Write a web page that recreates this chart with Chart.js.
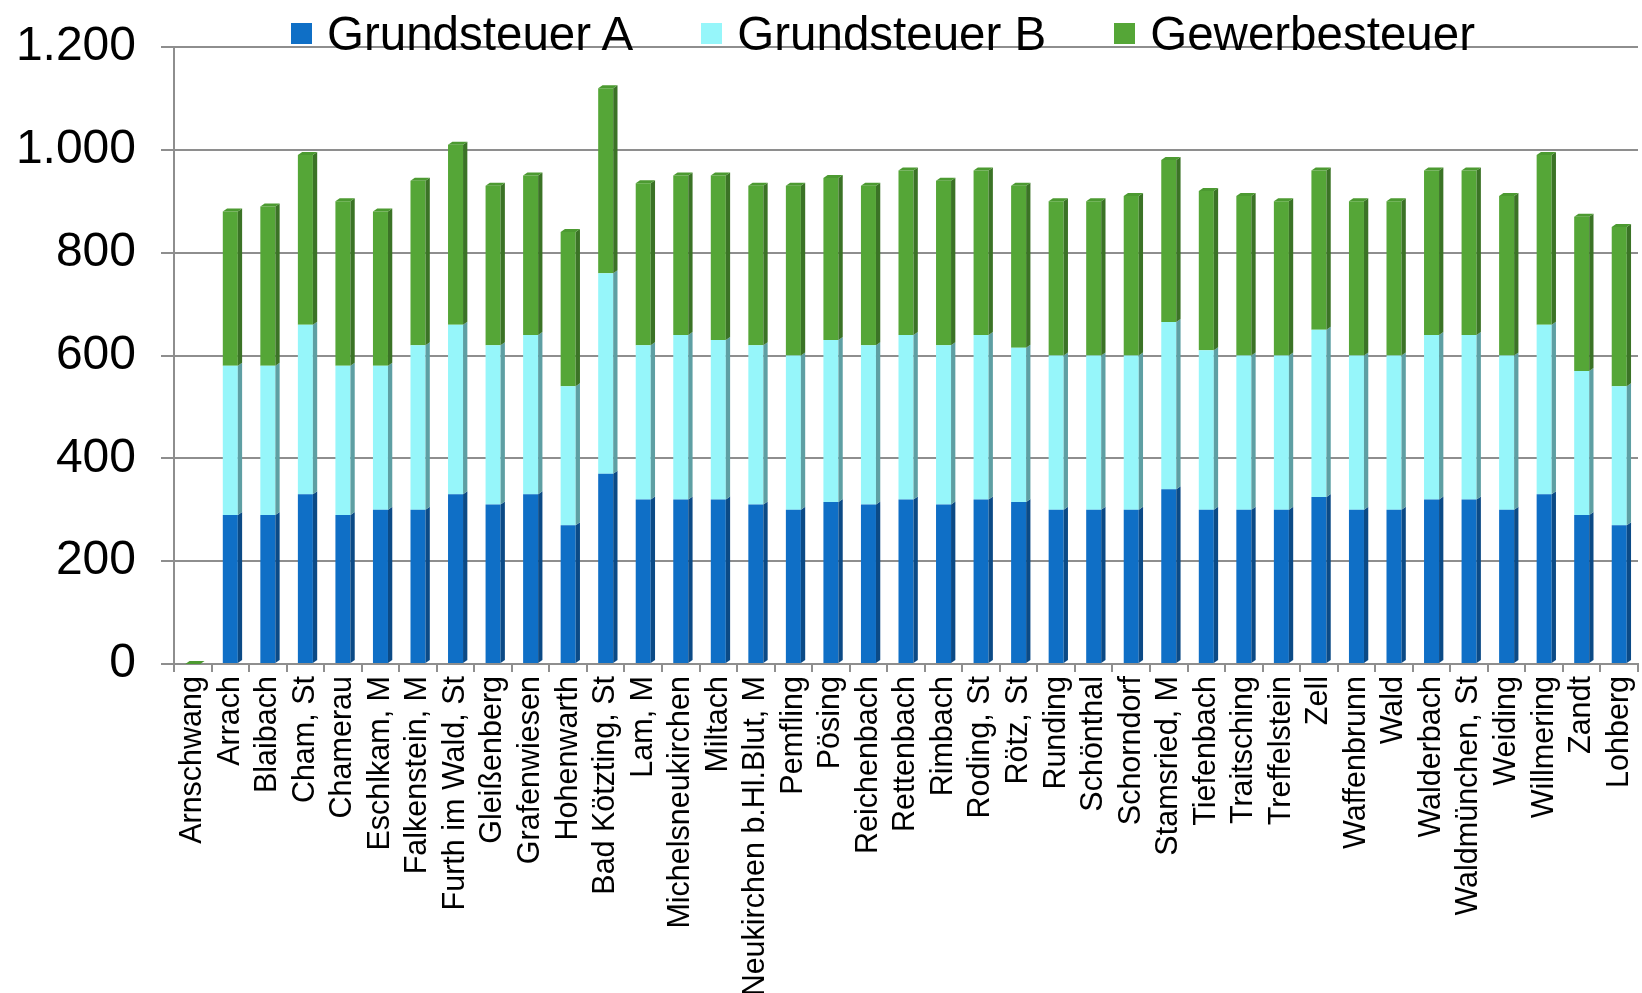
<!DOCTYPE html>
<html lang="de">
<head>
<meta charset="utf-8">
<title>Grundsteuer A, Grundsteuer B, Gewerbesteuer</title>
<script src="https://cdn.jsdelivr.net/npm/chart.js@4.4.1/dist/chart.umd.min.js"></script>
<style>
    html, body { margin: 0; padding: 0; background: #fff; }
    #wrap { position: relative; width: 1642px; height: 993px; overflow: hidden; }
    #legende {
        position: absolute; top: 10px; left: 291px;
        display: flex; align-items: center; gap: 68px;
        font-family: 'Liberation Sans', Arial, sans-serif; font-size: 47.5px; line-height: 47px; color: #000;
    }
    #legende .item { display: flex; align-items: center; }
    #legende .box { width: 21px; height: 21px; margin-right: 15px; }
</style>
</head>
<body>
<div id="wrap">
    <canvas id="myChart" width="1642" height="993"></canvas>
    <div id="legende"></div>
</div>
<script>
// Gemeinden (Landkreis Cham)
const gemeinden = [
    'Arnschwang', 'Arrach', 'Blaibach', 'Cham, St', 'Chamerau', 'Eschlkam, M',
    'Falkenstein, M', 'Furth im Wald, St', 'Gleißenberg', 'Grafenwiesen', 'Hohenwarth',
    'Bad Kötzting, St', 'Lam, M', 'Michelsneukirchen', 'Miltach', 'Neukirchen b.Hl.Blut, M',
    'Pemfling', 'Pösing', 'Reichenbach', 'Rettenbach', 'Rimbach', 'Roding, St', 'Rötz, St',
    'Runding', 'Schönthal', 'Schorndorf', 'Stamsried, M', 'Tiefenbach', 'Traitsching',
    'Treffelstein', 'Zell', 'Waffenbrunn', 'Wald', 'Walderbach', 'Waldmünchen, St',
    'Weiding', 'Willmering', 'Zandt', 'Lohberg'
];

// Werte je Gemeinde
const grundsteuerA = [
    0, 290, 290, 330, 290, 300, 300, 330, 310, 330, 270, 370, 320, 320, 320, 310,
    300, 315, 310, 320, 310, 320, 315, 300, 300, 300, 340, 300, 300, 300, 325,
    300, 300, 320, 320, 300, 330, 290, 270
];
const grundsteuerB = [
    0, 290, 290, 330, 290, 280, 320, 330, 310, 310, 270, 390, 300, 320, 310, 310,
    300, 315, 310, 320, 310, 320, 300, 300, 300, 300, 325, 310, 300, 300, 325,
    300, 300, 320, 320, 300, 330, 280, 270
];
const gewerbesteuer = [
    0, 300, 310, 330, 320, 300, 320, 350, 310, 310, 300, 360, 315, 310, 320, 310,
    330, 315, 310, 320, 320, 320, 315, 300, 300, 310, 315, 310, 310, 300, 310,
    300, 300, 320, 320, 310, 330, 300, 310
];

// Achse
const yTicks = [0, 200, 400, 600, 800, 1000, 1200];

const serienNamen = ['Grundsteuer A', 'Grundsteuer B', 'Gewerbesteuer'];
const frontFarben = ['#0F6FC6', '#96F6FA', '#55A637'];
const seitenFarben = ['#0B4A86', '#5E9FA3', '#3B7326'];
const deckelFarbe = '#4C9A31';

const monitor = {

    ctx: document.getElementById('myChart').getContext('2d'),
    myChart: null,

    init() {
        Chart.defaults.font.family = "'Liberation Sans', Arial, sans-serif";
        Chart.defaults.color = '#000';
        this.create_legend();
        this.create_graph();
    },

    // Zahl mit Tausenderpunkt
    format: function (v) {
        return String(v).replace(/\B(?=(\d{3})+(?!\d))/g, '.');
    },

    create_legend: function () {
        const box = document.getElementById('legende');
        serienNamen.forEach(function (name, i) {
            box.insertAdjacentHTML('beforeend',
                `<div class="item"><span class="box" style="background:${frontFarben[i]}"></span><span>${name}</span></div>`);
        });
    },

    // Seiten- und Deckflaechen der Saeulen (3D-Optik)
    depth_plugin: {
        id: 'tiefe',
        afterDatasetsDraw(chart) {
            const ctx = chart.ctx;
            const dx = 4.3, dy = 3;
            const last = chart.data.datasets.length - 1;
            ctx.save();
            chart.data.datasets.forEach(function (ds, d) {
                chart.getDatasetMeta(d).data.forEach(function (bar) {
                    const p = bar.getProps(['x', 'y', 'base', 'width'], true);
                    const l = p.x - p.width / 2, r = p.x + p.width / 2;
                    if (p.base - p.y > 0) {
                        ctx.fillStyle = seitenFarben[d];
                        ctx.beginPath();
                        ctx.moveTo(r, p.y);
                        ctx.lineTo(r + dx, p.y - dy);
                        ctx.lineTo(r + dx, p.base - dy);
                        ctx.lineTo(r, p.base);
                        ctx.closePath();
                        ctx.fill();
                    }
                    if (d === last) {
                        ctx.fillStyle = deckelFarbe;
                        ctx.beginPath();
                        ctx.moveTo(l, p.y);
                        ctx.lineTo(l + dx, p.y - dy);
                        ctx.lineTo(r + dx, p.y - dy);
                        ctx.lineTo(r, p.y);
                        ctx.closePath();
                        ctx.fill();
                    }
                });
            });
            ctx.restore();
        }
    },

    create_graph: function () {
        const outher_this = this;
        const werte = [grundsteuerA, grundsteuerB, gewerbesteuer];

        outher_this.myChart = new Chart(outher_this.ctx, {
            type: 'bar',
            data: {
                labels: gemeinden,
                datasets: werte.map(function (data, i) {
                    return {
                        label: serienNamen[i],
                        data: data,
                        backgroundColor: frontFarben[i],
                        borderWidth: 0,
                        barPercentage: 0.4,
                        categoryPercentage: 1.0
                    };
                })
            },
            options: {
                responsive: false,
                animation: false,
                layout: { padding: { top: 47, left: 15, right: 4, bottom: 0 } },
                plugins: {
                    legend: { display: false },
                    tooltip: { enabled: false }
                },
                scales: {
                    x: {
                        stacked: true,
                        afterFit: function (axis) {
                            axis.height = 329;
                            axis.paddingLeft = 0;
                            axis.paddingRight = 0;
                        },
                        grid: { drawOnChartArea: false, color: '#8E8E8E', lineWidth: 2, tickLength: 8 },
                        border: { color: '#8E8E8E', width: 2 },
                        ticks: {
                            autoSkip: false, minRotation: 90, maxRotation: 90,
                            padding: 4, color: '#000', font: { size: 30.5 }
                        }
                    },
                    y: {
                        stacked: true,
                        min: 0,
                        max: 1200,
                        afterBuildTicks: function (axis) {
                            axis.ticks = yTicks.map(function (v) { return { value: v }; });
                        },
                        afterFit: function (axis) {
                            axis.width = 159;
                            axis.paddingTop = 0;
                            axis.paddingBottom = 0;
                        },
                        grid: { color: '#8E8E8E', lineWidth: 2, tickLength: 13 },
                        border: { color: '#8E8E8E', width: 2 },
                        ticks: {
                            padding: 25, color: '#000', font: { size: 48 },
                            callback: function (v) { return outher_this.format(v); }
                        }
                    }
                }
            },
            plugins: [outher_this.depth_plugin]
        });
    }
};

monitor.init();
</script>
</body>
</html>
